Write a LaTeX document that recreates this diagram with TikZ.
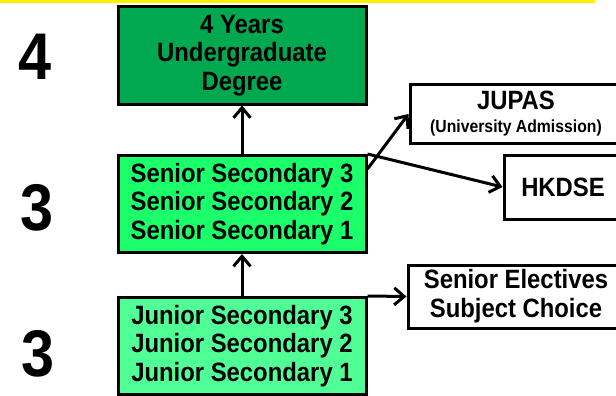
\documentclass[tikz,border=0pt]{standalone}
\usepackage{fontspec}
\setmainfont{Liberation Sans}[FakeStretch=0.9]
\usepackage{tikz}
\usepackage{xcolor}
\usetikzlibrary{arrows.meta, calc, positioning}

\definecolor{degreegreen}{RGB}{0,168,80}
\definecolor{seniorgreen}{RGB}{26,255,106}
\definecolor{juniorgreen}{RGB}{80,255,150}

\tikzset{
    stagebox/.style={draw, line width=3pt, minimum width=248pt, minimum height=97pt,
        align=center, inner sep=0pt, font=\bfseries\fontsize{26.5}{28.5}\selectfont},
    exitbox/.style={draw, fill=white, line width=3pt, align=center, inner sep=0pt,
        font=\bfseries\fontsize{26.5}{29}\selectfont},
    yearcount/.style={font=\bfseries\fontsize{66}{66}\selectfont},
    >={Straight Barb[length=10pt, width=17pt, line width=3pt]}
}

\begin{document}
\begin{tikzpicture}[x=1pt, y=-1pt, line width=3pt]
                    \useasboundingbox (0, 0) rectangle (616, 396);
                    \clip (0, 0) rectangle (616, 396);
                    \fill[yellow] (0, 0) rectangle (595, 3);

                    \node[yearcount] (fouryrs) at (35, 57) {4};
                    \node[yearcount] (threess) at (37, 208) {3};
                    \node[yearcount] (threejs) at (38, 354) {3};

                    \node[stagebox, fill=degreegreen] (degree) at (242, 55.5)
                        {4 Years\\Undergraduate\\Degree};
                    \node[stagebox, fill=seniorgreen] (senior) at (242, 204)
                        {Senior Secondary 3\\Senior Secondary 2\\Senior Secondary 1};
                    \node[stagebox, fill=juniorgreen] (junior) at (242, 346)
                        {Junior Secondary 3\\Junior Secondary 2\\Junior Secondary 1};

                    \node[exitbox, minimum width=212pt, minimum height=58pt] (jupas) at (516, 114)
                        {JUPAS\\[-6pt]{\fontsize{17.5}{19}\selectfont(University Admission)}};
                    \node[exitbox, minimum width=118pt, minimum height=64pt] (hkdse) at (563, 187) {HKDSE};
                    \node[exitbox, minimum width=216pt, minimum height=63pt] (electives) at (516, 296.5)
                        {Senior Electives\\Subject Choice};

                    \coordinate (jupasfrom) at ($(senior.north east) + (0, 15)$);

                    \draw
                    (senior.north) edge[->] (degree.south)
                    (junior.north) edge[->] (senior.south)
                    (jupasfrom) edge[->] (jupas.west)
                    (senior.north east) edge[->] (hkdse.west)
                    (junior.north east) edge[->] (electives.west);
                \end{tikzpicture}
\end{document}
